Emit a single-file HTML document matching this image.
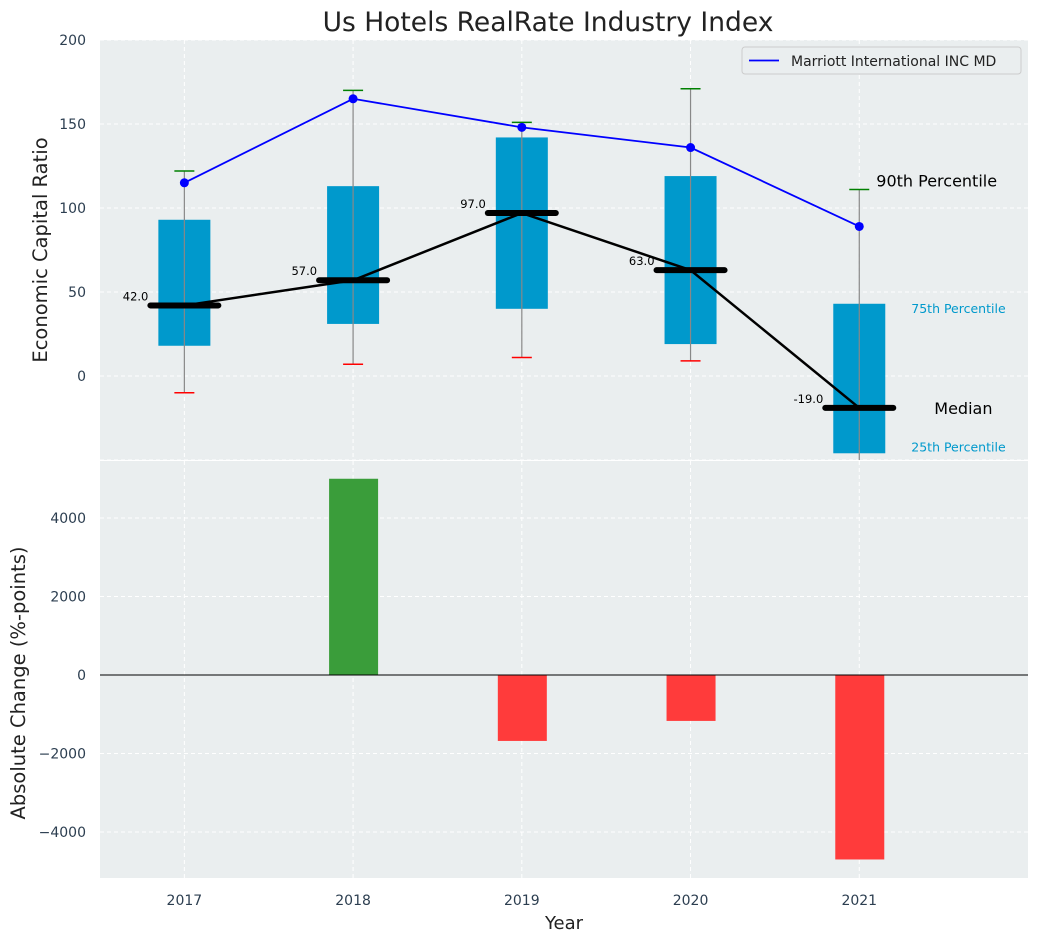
<!DOCTYPE html>
<html><head><meta charset="utf-8"><style>
body{margin:0;background:#fff;font-family:"Liberation Sans","DejaVu Sans",sans-serif}
svg text{font-family:"DejaVu Sans","Liberation Sans",sans-serif}
</style></head><body>
<svg id="c" width="1039" height="942" xmlns="http://www.w3.org/2000/svg"></svg>
<script>
const years=[2017,2018,2019,2020,2021];
const p25=[18,31,40,19,-46];
const p75=[93,113,142,119,43];
const p10=[-10,7,11,9,-60];
const p90=[122,170,151,171,111];
const medians=[42,57,97,63,-19];
const company=[115,165,148,136,89];
const changes=[0,5000,-1680,-1170,-4700];
const topTicks=[0,50,100,150,200];
const botTicks=[-4000,-2000,0,2000,4000];

{
const NS="http://www.w3.org/2000/svg";
const svg=document.getElementById('c');
function el(t,a,p){const e=document.createElementNS(NS,t);for(const k in a)e.setAttribute(k,a[k]);(p||svg).appendChild(e);return e;}
const L=100,R=1028;
const x=v=>L+(v-2016.5)/(2022-2016.5)*(R-L);
const yT=v=>460-(v+50)/250*420;
const yB=v=>675-v*0.03925;

let e=el('rect',{x:L,y:40,width:R-L,height:420,fill:'#eaeeef'});


e=el('rect',{x:L,y:461,width:R-L,height:417,fill:'#eaeeef'});



const topG=el('g',{});


const botG=el('g',{});


const cp=el('clipPath',{id:'ct'});el('rect',{x:L,y:40,width:R-L,height:420},cp);
const cpb=el('clipPath',{id:'cb'});el('rect',{x:L,y:461,width:R-L,height:417},cpb);

years.forEach(yr=>{
 el('line',{x1:x(yr),x2:x(yr),y1:40,y2:460,stroke:'#fff','stroke-dasharray':'4,3'},topG);
 el('line',{x1:x(yr),x2:x(yr),y1:461,y2:878,stroke:'#fff','stroke-dasharray':'4,3'},botG);
 const t=el('text',{x:x(yr),y:905,'text-anchor':'middle','font-size':14,fill:'#2c3e50'});t.textContent=yr;
 
 
});
[-50,...topTicks].forEach(v=>{
 el('line',{x1:L,x2:R,y1:yT(v),y2:yT(v),stroke:'#fff','stroke-dasharray':'4,3'},topG);
});
topTicks.forEach(v=>{
 const t=el('text',{x:86,y:yT(v)+5,'text-anchor':'end','font-size':14,fill:'#2c3e50'},topG);t.textContent=v;
 
 
});
botTicks.forEach(v=>{
 el('line',{x1:L,x2:R,y1:yB(v),y2:yB(v),stroke:'#fff','stroke-dasharray':'4,3'},botG);
 const t=el('text',{x:86,y:yB(v)+5,'text-anchor':'end','font-size':14,fill:'#2c3e50'},botG);t.textContent=v<0?'\u2212'+(-v):v;
 
 
});

const tg=el('g',{'clip-path':'url(#ct)'},topG);
years.forEach((yr,i)=>{
 const cx=x(yr);
 let b=el('rect',{x:cx-26,y:yT(p75[i]),width:52,height:yT(p25[i])-yT(p75[i]),fill:'#0099cc'},tg);
 
 
 let w=el('line',{x1:cx,x2:cx,y1:yT(p10[i]),y2:yT(p90[i]),stroke:'#888','stroke-width':1.2},tg);
 
 
 let c1=el('line',{x1:cx-10,x2:cx+10,y1:yT(p90[i]),y2:yT(p90[i]),stroke:'green','stroke-width':1.5},tg);
 
 
 let c2=el('line',{x1:cx-10,x2:cx+10,y1:yT(p10[i]),y2:yT(p10[i]),stroke:'red','stroke-width':1.5},tg);
 
 
});
let mp=el('polyline',{points:years.map((yr,i)=>x(yr)+','+yT(medians[i])).join(' '),fill:'none',stroke:'#000','stroke-width':2.5},tg);


years.forEach((yr,i)=>{
 let m=el('line',{x1:x(yr)-34,x2:x(yr)+34,y1:yT(medians[i]),y2:yT(medians[i]),stroke:'#000','stroke-width':6,'stroke-linecap':'round'},tg);
 
 
 let t=el('text',{x:x(yr)-36,y:yT(medians[i])-5,'text-anchor':'end','font-size':11.5,fill:'#000'},topG);t.textContent=medians[i].toFixed(1);
 
 
});
let cl=el('polyline',{points:years.map((yr,i)=>x(yr)+','+yT(company[i])).join(' '),fill:'none',stroke:'#0000ff','stroke-width':1.8},tg);


years.forEach((yr,i)=>{
 let d=el('circle',{cx:x(yr),cy:yT(company[i]),r:4.5,fill:'#0000ff'},tg);
 
 
});
const last=years.length-1;
[[x(years[last])+17,yT(p90[last])-3,'90th Percentile',16,'#000'],
 [x(years[last])+75,yT(medians[last])+6,'Median',16,'#000'],
 [x(years[last])+52,yT(p75[last])+9,'75th Percentile',12.5,'#0099cc'],
 [x(years[last])+52,yT(p25[last])-2,'25th Percentile',12.5,'#0099cc']].forEach(a=>{
 let t=el('text',{x:a[0],y:a[1],'font-size':a[3],fill:a[4]},topG);t.textContent=a[2];
 
 
});
const lg=el('g',{},topG);


el('rect',{x:742,y:47,width:279,height:27,rx:3,fill:'#eaeeef',stroke:'#ccc'},lg);
el('line',{x1:749,x2:779,y1:60.5,y2:60.5,stroke:'#0000ff','stroke-width':1.8},lg);
let lt=el('text',{x:791,y:66,'font-size':14,fill:'#222'},lg);lt.textContent='Marriott International INC MD';

const bg=el('g',{'clip-path':'url(#cb)'},botG);
years.forEach((yr,i)=>{
 if(!changes[i])return;
 const v=changes[i];
 let r=el('rect',{x:x(yr)-24,y:Math.min(yB(v),yB(0)),width:49,height:Math.abs(yB(v)-yB(0)),fill:v>0?'#3a9d3a':'#ff3b3b'},bg);
 
 
});
el('line',{x1:L,x2:R,y1:yB(0),y2:yB(0),stroke:'#000','stroke-width':1},botG);

let t=el('text',{x:548,y:31,'text-anchor':'middle','font-size':26.5,fill:'#222'});t.textContent='Us Hotels RealRate Industry Index';


t=el('text',{x:564,y:929,'text-anchor':'middle','font-size':18,fill:'#222'});t.textContent='Year';


t=el('text',{x:0,y:0,'text-anchor':'middle','font-size':19.5,fill:'#222',transform:'translate(47,250) rotate(-90)'});t.textContent='Economic Capital Ratio';


t=el('text',{x:0,y:0,'text-anchor':'middle','font-size':19.5,fill:'#222',transform:'translate(25,683) rotate(-90)'});t.textContent='Absolute Change (%-points)';


}
</script>
</body></html>
